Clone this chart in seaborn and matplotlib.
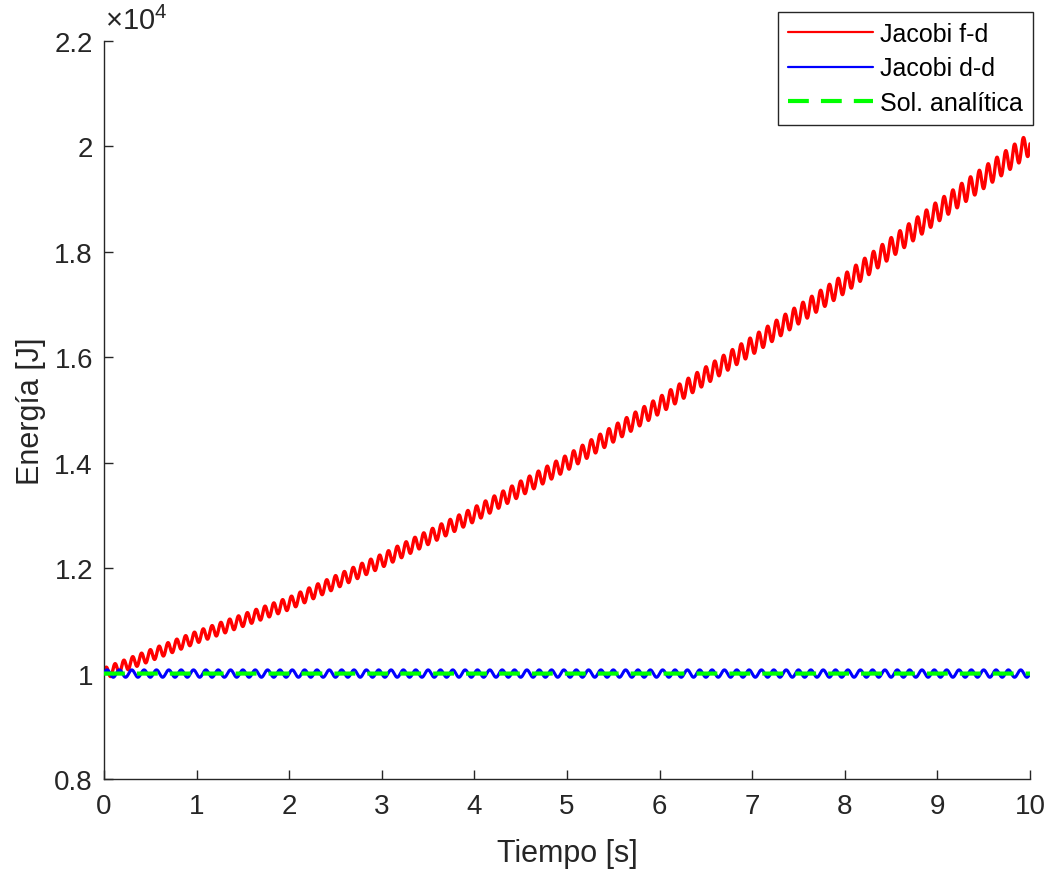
import numpy as np
import pandas as pd
import matplotlib
matplotlib.use("Agg")
import matplotlib.pyplot as plt
import seaborn as sns
from matplotlib.ticker import FuncFormatter

# ---- data ----
t_knots = [0, 1, 2, 3, 4, 5, 6, 7, 8, 9, 10]                       # s
red_trend = [10000, 10690, 11330, 12140, 13020, 14000, 15090, 16220, 17400, 18760, 20050]  # J (centre of Jacobi f-d)
red_rel_amp = 0.0105        # relative ripple amplitude of Jacobi f-d
red_cycles = 105            # ripples over 10 s
blue_level = 10000          # J
blue_amp = 70               # J ripple amplitude of Jacobi d-d
blue_cycles = 75
green_level = 10000         # J analytic solution
x_ticks = [0, 1, 2, 3, 4, 5, 6, 7, 8, 9, 10]
y_ticks = [8000, 10000, 12000, 14000, 16000, 18000, 20000, 22000]
labels = ["Jacobi f-d", "Jacobi d-d", "Sol. analítica"]

# ---- build series ----
t = np.linspace(0, 10, 4001)
trend = np.interp(t, t_knots, red_trend)
red = trend * (1 + red_rel_amp * np.sin(2 * np.pi * red_cycles * t / 10))
blue = blue_level + blue_amp * np.sin(2 * np.pi * blue_cycles * t / 10)
green = np.full_like(t, green_level, dtype=float)
df = pd.DataFrame({"t": t, "red": red, "blue": blue, "green": green})

sns.set_theme(style="white")
plt.rcParams["font.family"] = ["Liberation Sans", "DejaVu Sans"]
plt.rcParams["mathtext.default"] = "regular"

fig = plt.figure(figsize=(10.47, 8.7), dpi=100)
ax = fig.add_axes([104 / 1047, 1 - 780 / 870, (1030 - 104) / 1047, (780 - 42) / 870])

sns.lineplot(data=df, x="t", y="red", ax=ax, color=(1, 0, 0), linewidth=2.4,
             label=labels[0], estimator=None, sort=False, zorder=2)
sns.lineplot(data=df, x="t", y="blue", ax=ax, color=(0, 0, 1), linewidth=2.2,
             label=labels[1], estimator=None, sort=False, zorder=3)
sns.lineplot(data=df, x="t", y="green", ax=ax, color=(0, 1, 0), linewidth=3.0,
             label=labels[2], estimator=None, sort=False, zorder=4)
ax.lines[2].set_linestyle((0, (5, 2.9)))

ax.set_xlim(0, 10)
ax.set_ylim(8000, 22000)
ax.set_xticks(x_ticks)
ax.set_yticks(y_ticks)
ax.yaxis.set_major_formatter(FuncFormatter(lambda v, p: f"{v / 1e4:g}"))

dark = "#262626"
for side in ["top", "right"]:
    ax.spines[side].set_visible(False)
for side in ["left", "bottom"]:
    ax.spines[side].set_color(dark)
    ax.spines[side].set_linewidth(1.0)
ax.tick_params(axis="both", direction="in", length=6.5, width=1.0, color=dark,
               labelsize=20, labelcolor=dark, left=True, bottom=True)
ax.tick_params(axis="x", pad=10)
ax.tick_params(axis="y", pad=8)

ax.set_xlabel("Tiempo [s]", fontsize=22, color=dark, labelpad=14)
ax.set_ylabel("Energía [J]", fontsize=22, color=dark, labelpad=6)

ax.annotate(r"×$10^{4}$", xy=(0, 1), xycoords="axes fraction", xytext=(1, 4),
            textcoords="offset points", ha="left", va="bottom", fontsize=21, color=dark)

leg = ax.legend(loc="upper right", bbox_to_anchor=(1033 / 1047, 1 - 13 / 870),
                bbox_transform=fig.transFigure, fontsize=18, frameon=True,
                fancybox=False, framealpha=1, edgecolor=dark, handlelength=3.4,
                handletextpad=0.3, labelspacing=0.42, borderpad=0.4, borderaxespad=0)
leg.get_frame().set_linewidth(1.0)
for txt in leg.get_texts():
    txt.set_color("black")
leg.get_lines()[0].set_linewidth(1.6)
leg.get_lines()[1].set_linewidth(1.6)
leg.get_lines()[2].set_linewidth(3.0)
leg.get_lines()[2].set_linestyle((0, (5, 2.9)))

fig.savefig("out.png", dpi=100)
